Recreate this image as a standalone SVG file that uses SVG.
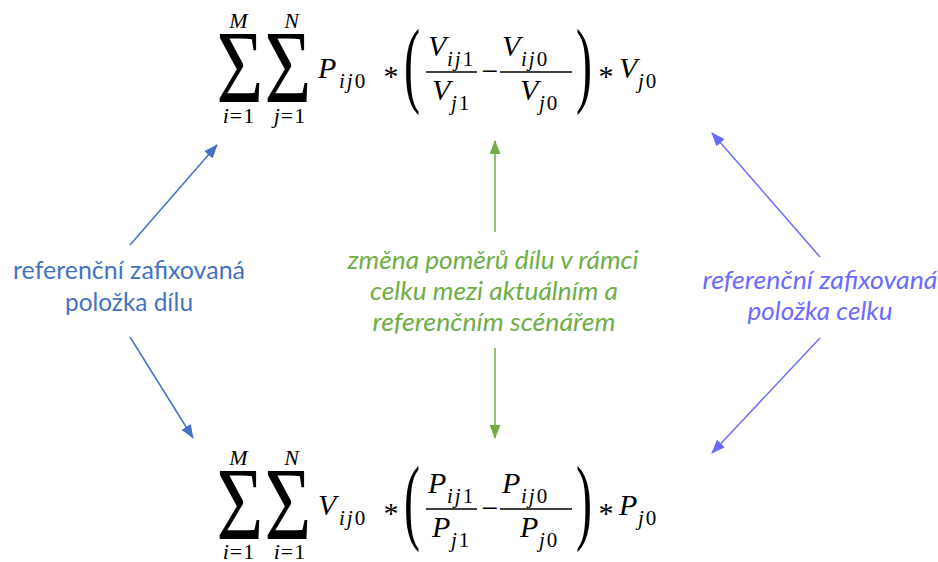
<svg xmlns="http://www.w3.org/2000/svg" width="938" height="562" viewBox="0 0 938 562">
<style>
.m{font-family:"Liberation Serif","Times New Roman",serif;font-style:italic;fill:#000}
.u{font-style:normal}
.b{font-size:30px}
.s{font-size:21px;letter-spacing:2px}
.l{font-size:22px;letter-spacing:1px}
.sig{font-family:"Liberation Serif","Times New Roman",serif;font-style:normal;font-size:103px;text-anchor:middle;fill:#000}
.par{font-family:"Liberation Serif",serif;font-style:normal;font-size:96px;fill:#000}
.bar{stroke:#000;stroke-width:1.6}
.lbl{font-family:Lato,"Liberation Sans",sans-serif;font-size:25px;text-anchor:middle}
.blue{fill:#4472C4}
.green{fill:#70AD47;font-style:italic}
.purple{fill:#6B6BFF;font-style:italic}
.c{text-anchor:middle}
</style>
<defs>
<marker id="ab" viewBox="0 0 14 11" refX="13" refY="5.5" markerWidth="14" markerHeight="11" markerUnits="userSpaceOnUse" orient="auto"><path d="M0,0L14,5.5L0,11z" fill="#4472C4"/></marker>
<marker id="ag" viewBox="0 0 14 11" refX="13" refY="5.5" markerWidth="14" markerHeight="11" markerUnits="userSpaceOnUse" orient="auto"><path d="M0,0L14,5.5L0,11z" fill="#70AD47"/></marker>
<marker id="ap" viewBox="0 0 14 11" refX="13" refY="5.5" markerWidth="14" markerHeight="11" markerUnits="userSpaceOnUse" orient="auto"><path d="M0,0L14,5.5L0,11z" fill="#6B6BFF"/></marker>
</defs>

<g id="formula-top" class="m">
<text class="sig" transform="translate(240,102) scale(0.78,1)">Σ</text>
<text class="l c" x="239" y="28">M</text>
<text class="l c" x="239" y="123">i<tspan class="u">=1</tspan></text>
<text class="sig" transform="translate(288,102) scale(0.78,1)">Σ</text>
<text class="l c" x="292" y="28">N</text>
<text class="l c" x="290" y="123">j<tspan class="u">=1</tspan></text>
<text class="b" x="318" y="78">P</text>
<text class="s" x="339" y="88">ij<tspan class="u">0</tspan></text>
<text class="b u c" x="391" y="86">*</text>
<text class="par" transform="translate(404,95) scale(0.5,1)">(</text>
<text class="b" x="428" y="56">V</text>
<text class="s" x="447" y="66">ij<tspan class="u">1</tspan></text>
<line class="bar" x1="426" y1="72" x2="477" y2="72"/>
<text class="b" x="432" y="100">V</text>
<text class="s" x="451" y="110">j<tspan class="u">1</tspan></text>
<text class="b u c" x="490" y="81">−</text>
<text class="b" x="502" y="56">V</text>
<text class="s" x="521" y="66">ij<tspan class="u">0</tspan></text>
<line class="bar" x1="500" y1="72" x2="572" y2="72"/>
<text class="b" x="520" y="100">V</text>
<text class="s" x="539" y="110">j<tspan class="u">0</tspan></text>
<text class="par" transform="translate(576,95) scale(0.5,1)">)</text>
<text class="b u c" x="606" y="86">*</text>
<text class="b" x="619" y="78">V</text>
<text class="s" x="638" y="88">j<tspan class="u">0</tspan></text>
</g>

<g id="formula-bottom" class="m" transform="translate(0,437)">
<text class="sig" transform="translate(240,102) scale(0.78,1)">Σ</text>
<text class="l c" x="239" y="28">M</text>
<text class="l c" x="239" y="122">i<tspan class="u">=1</tspan></text>
<text class="sig" transform="translate(288,102) scale(0.78,1)">Σ</text>
<text class="l c" x="292" y="28">N</text>
<text class="l c" x="290" y="122">i<tspan class="u">=1</tspan></text>
<text class="b" x="318" y="78">V</text>
<text class="s" x="339" y="88">ij<tspan class="u">0</tspan></text>
<text class="b u c" x="391" y="86">*</text>
<text class="par" transform="translate(404,95) scale(0.5,1)">(</text>
<text class="b" x="428" y="56">P</text>
<text class="s" x="447" y="66">ij<tspan class="u">1</tspan></text>
<line class="bar" x1="426" y1="72" x2="477" y2="72"/>
<text class="b" x="432" y="100">P</text>
<text class="s" x="451" y="110">j<tspan class="u">1</tspan></text>
<text class="b u c" x="490" y="81">−</text>
<text class="b" x="502" y="56">P</text>
<text class="s" x="521" y="66">ij<tspan class="u">0</tspan></text>
<line class="bar" x1="500" y1="72" x2="572" y2="72"/>
<text class="b" x="520" y="100">P</text>
<text class="s" x="539" y="110">j<tspan class="u">0</tspan></text>
<text class="par" transform="translate(576,95) scale(0.5,1)">)</text>
<text class="b u c" x="606" y="86">*</text>
<text class="b" x="619" y="78">P</text>
<text class="s" x="638" y="88">j<tspan class="u">0</tspan></text>
</g>

<g id="label-left" class="lbl blue">
<text x="129" y="279" textLength="232" lengthAdjust="spacingAndGlyphs">referenční zafixovaná</text>
<text x="129" y="311" textLength="128" lengthAdjust="spacingAndGlyphs">položka dílu</text>
</g>
<g id="label-center" class="lbl green">
<text x="493" y="269" textLength="291" lengthAdjust="spacingAndGlyphs">změna poměrů dílu v rámci</text>
<text x="494" y="300" textLength="248" lengthAdjust="spacingAndGlyphs">celku mezi aktuálním a</text>
<text x="494" y="331" textLength="243" lengthAdjust="spacingAndGlyphs">referenčním scénářem</text>
</g>
<g id="label-right" class="lbl purple">
<text x="820" y="289" textLength="235" lengthAdjust="spacingAndGlyphs">referenční zafixovaná</text>
<text x="820" y="320" textLength="145" lengthAdjust="spacingAndGlyphs">položka celku</text>
</g>

<g id="connectors" stroke-width="1.5" fill="none">
<line x1="130" y1="245" x2="217" y2="145" stroke="#4472C4" marker-end="url(#ab)"/>
<line x1="130" y1="337" x2="193" y2="438" stroke="#4472C4" marker-end="url(#ab)"/>
<line x1="495" y1="232" x2="495" y2="141" stroke="#70AD47" marker-end="url(#ag)"/>
<line x1="495" y1="348" x2="495" y2="438" stroke="#70AD47" marker-end="url(#ag)"/>
<line x1="820" y1="257" x2="712" y2="133" stroke="#6B6BFF" marker-end="url(#ap)"/>
<line x1="820" y1="338" x2="712" y2="453" stroke="#6B6BFF" marker-end="url(#ap)"/>
</g>
</svg>
